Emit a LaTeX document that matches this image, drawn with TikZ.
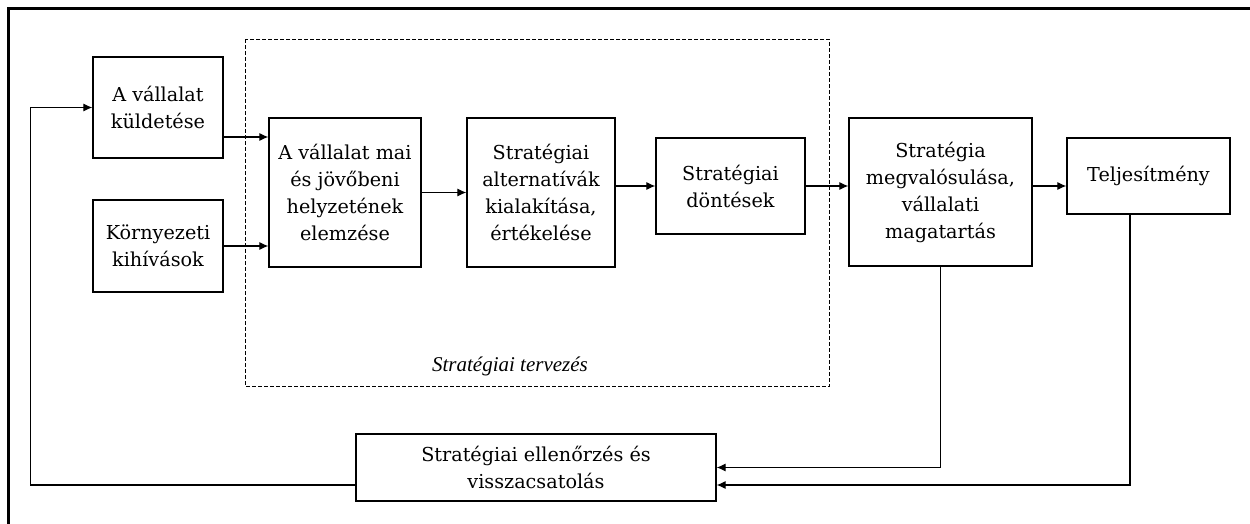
\documentclass[tikz,border=0pt]{standalone}
\usepackage{fontspec}
\setmainfont{DejaVu Serif}
\newfontfamily\labelfont{Liberation Serif}
\usepackage{xcolor}
\usepackage{tikz}
\usetikzlibrary{arrows.meta, positioning, calc}

\begin{document}
\begin{tikzpicture}[x=0.5pt, y=-0.5pt,
    >={Latex[length=4.5pt,width=4pt]},
    box/.style={draw, line width=0.6pt, align=center, inner sep=2pt,
        font=\fontsize{9.6}{13.5}\selectfont},
    link/.style={->, line width=0.55pt}]
    \useasboundingbox (0,0) rectangle (1250,524);

    % Outer frame (only top and left edge on the page)
    \draw[line width=1.1pt] (1250,8.5) -- (8.5,8.5) -- (8.5,524);

    % Planning area
    \draw[dashed, dash pattern=on 2pt off 1pt, line width=0.5pt] (245.7,39.3) rectangle (829.5,386.7);
    \node[font=\labelfont\itshape\fontsize{10.5}{12}\selectfont] (plan) at (510,366) {Stratégiai tervezés};

    % Inputs
    \node[box, minimum width=65pt, minimum height=50.5pt] (mission) at (158,107.5) {A vállalat\\küldetése};
    \node[box, minimum width=65pt, minimum height=46pt] (env) at (158,246) {Környezeti\\kihívások};

    % Main chain
    \node[box, minimum width=76pt, minimum height=74.5pt] (analysis) at (345,192.5) {A vállalat mai\\és jövőbeni\\helyzetének\\elemzése};
    \node[box, minimum width=74pt, minimum height=74.5pt] (alt) at (541,192.5) {Stratégiai\\alternatívák\\kialakítása,\\értékelése};
    \node[box, minimum width=74.5pt, minimum height=48pt] (decision) at (730.5,186) {Stratégiai\\döntések};
    \node[box, minimum width=91.5pt, minimum height=74pt] (impl) at (940.5,192) {Stratégia\\megvalósulása,\\vállalati\\magatartás};
    \node[box, minimum width=81.5pt, minimum height=38pt] (perf) at (1148.5,176) {Teljesítmény};

    % Control loop
    \node[box, minimum width=180pt, minimum height=33.5pt] (control) at (536,467.5) {Stratégiai ellenőrzés és\\visszacsatolás};

    % Connectors
    \coordinate (m1) at ([yshift=-14.75pt]mission.east);
    \coordinate (c2) at ([yshift=-8.75pt]control.east);
    \draw[link] (m1) -- (m1 -| analysis.west);
    \draw[link] (env.east) -- (env.east -| analysis.west);
    \draw[link] (analysis.east) -- (alt.west);
    \draw[link] (alt.east |- decision.west) -- (decision.west);
    \draw[link] (decision.east) -- (decision.east -| impl.west);
    \draw[link] (decision.east -| impl.east) -- (decision.east -| perf.west);

    % Feedback
    \draw[link] (impl.south) |- (control.east);
    \draw[link] ([xshift=-9.25pt]perf.south) |- (c2);
    \draw[link] (c2 -| control.west) -| ([xshift=-31pt]mission.west) -- (mission.west);
\end{tikzpicture}
\end{document}
